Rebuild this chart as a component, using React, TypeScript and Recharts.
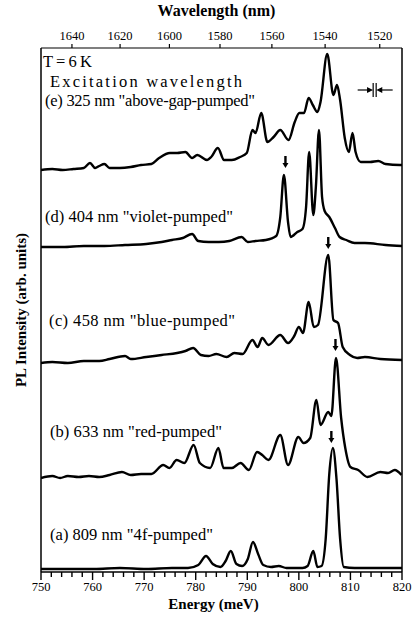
import { LineChart, Line, XAxis, YAxis, Label, ReferenceLine, ReferenceDot } from "recharts";

// PL spectra. Energies in meV, intensities in arb. units
// above each trace's own baseline.
const eEnergy = [750, 752.2, 754.2, 756.3, 758.3, 759.5, 760.5, 761.3, 762.3, 763.3, 765.3, 767.4, 769.4, 771.4, 772.9, 775.0, 776.4, 778.0, 779.3, 780.3, 782.2, 783.0, 784.3, 785.5, 787.0, 788.6, 789.9, 791.0, 791.6, 792.7, 793.9, 795.1, 796.4, 798.0, 799.2, 800.1, 801.0, 801.9, 802.7, 803.6, 804.2, 805.5, 806.7, 807.4, 808.0, 808.9, 809.7, 810.4, 811.0, 812.0, 813.8, 815.4, 816.8, 819.6, 820];
const eIntensity = [0, 1, 0, 1, 2, 7, 2, 4, 6, 2, 2, 3, 5, 6, 12, 17, 17, 18, 12, 15, 10, 13, 22, 10, 10, 13, 17, 40, 37, 57, 28, 33, 40, 30, 48, 57, 57, 72, 65, 58, 68, 116, 75, 85, 70, 32, 18, 37, 18, 8, 8, 9, 6, 5, 5];

const dEnergy = [750, 754.2, 758.3, 762.3, 766.3, 770.4, 773.4, 775.4, 777.5, 779.3, 780.5, 782.5, 784.5, 786.5, 788.9, 790.1, 791.6, 793.6, 795.6, 796.4, 797.1, 797.9, 798.4, 799.7, 800.7, 801.4, 802.0, 802.8, 803.3, 803.9, 804.5, 805.0, 805.9, 807.0, 807.9, 809.2, 810.8, 812.8, 816.8, 820];
const dIntensity = [0, 0, 1, 1, 2, 3, 5, 7, 9, 13, 6, 5, 5, 6, 10, 5, 6, 7, 11, 30, 72, 25, 10, 15, 18, 40, 95, 32, 60, 117, 50, 36, 30, 19, 10, 7, 4, 4, 2, 1];

const cEnergy = [750, 752.2, 755.2, 758.3, 761.3, 763.3, 766.3, 767.4, 770.4, 773.4, 776.4, 778.0, 779.5, 781.0, 782.5, 784.0, 786.0, 787.5, 789.1, 791.0, 792.0, 792.9, 794.1, 796.4, 797.9, 799.1, 800.0, 800.8, 801.9, 802.9, 803.7, 805.7, 806.7, 807.6, 808.5, 809.9, 811.3, 812.8, 815.8, 820];
const cIntensity = [0, 1, 0, 2, 2, 4, 7, 4, 6, 8, 10, 12, 15, 8, 7, 9, 6, 10, 9, 23, 16, 25, 18, 28, 20, 27, 36, 30, 61, 36, 38, 108, 43, 40, 16, 8, 5, 6, 4, 3];

const bEnergy = [750, 752.2, 753.7, 755.2, 757.3, 759.3, 761.3, 763.3, 765.7, 767.4, 769.4, 771.4, 773.7, 774.9, 776.3, 777.8, 779.6, 780.8, 782.8, 784.4, 785.4, 787.0, 788.7, 790.3, 791.9, 792.9, 794.1, 796.4, 797.9, 799.9, 800.9, 802.2, 803.4, 804.2, 805.7, 806.3, 807.2, 808.2, 809.0, 810.0, 811.5, 813.3, 815.8, 817.3, 818.6, 819.9];
const bIntensity = [0, 2, 0, 2, 1, 2, 1, 3, 6, 3, 4, 4, 13, 10, 18, 15, 33, 15, 10, 30, 10, 10, 15, 8, 26, 23, 18, 43, 13, 41, 35, 40, 78, 53, 66, 62, 120, 60, 30, 11, 8, 1, 6, 5, 8, 3];

const aEnergy = [750, 755.2, 760.3, 765.3, 770.4, 775.4, 778.5, 780.5, 782.0, 783.3, 784.8, 785.8, 786.8, 787.9, 789.0, 790.1, 791.1, 792.1, 793.1, 794.6, 796.1, 797.6, 800.7, 801.7, 802.8, 803.6, 804.4, 805.2, 805.9, 806.6, 807.3, 808.0, 808.7, 810.8, 815.8, 820];
const aIntensity = [0, 0, 0, 1, 0, 1, 1, 4, 13, 5, 2, 8, 18, 5, 3, 10, 27, 15, 4, 2, 3, 1, 1, 3, 18, 2, 3, 30, 95, 121, 90, 30, 2, 1, 1, 1];

// vertical offsets of the stacked traces
const offsets = { a: 3, b: 94, c: 209, d: 325, e: 402 };

const labels = [
  { text: "T = 6 K", x: 43, y: 67, w: 49 },
  { text: "Excitation wavelength", x: 50, y: 87, w: 192 },
  { text: '(e) 325 nm "above-gap-pumped"', x: 45, y: 106, w: 210 },
  { text: '(d) 404 nm "violet-pumped"', x: 45, y: 222, w: 188 },
  { text: '(c) 458 nm "blue-pumped"', x: 49, y: 326, w: 186 },
  { text: '(b) 633 nm "red-pumped"', x: 50, y: 437, w: 172 },
  { text: '(a) 809 nm "4f-pumped"', x: 50, y: 540, w: 163 },
];

// down arrows marking the resonant line in each spectrum
const arrowEnergy = [797.4, 805.7, 807.1, 806.3];
const arrowTip = [404, 323, 221, 129];

const wavelengths = [1640, 1620, 1600, 1580, 1560, 1540, 1520];
const HC = 1239841.98; // meV*nm
const topTicks = wavelengths.map((w) => HC / w);
const bottomTicks = Array.from({ length: 36 }, (_, i) => 750 + i * 2);

const FONT = '"Liberation Serif", "Times New Roman", serif';

const toSeries = (en: number[], inten: number[], off: number) =>
  en.map((e, i) => ({ e, v: inten[i] + off }));

const series = [
  toSeries(eEnergy, eIntensity, offsets.e),
  toSeries(dEnergy, dIntensity, offsets.d),
  toSeries(cEnergy, cIntensity, offsets.c),
  toSeries(bEnergy, bIntensity, offsets.b),
  toSeries(aEnergy, aIntensity, offsets.a),
];

const BottomTick = (props: any) => {
  const { x, y, payload } = props;
  const major = payload.value % 10 === 0;
  return (
    <g>
      <line x1={x} x2={x} y1={y} y2={y + (major ? 8 : 5)} stroke="#000" strokeWidth={1.4} />
      {major && (
        <text x={x} y={y + 19} textAnchor="middle" fontSize={12.5} fontFamily={FONT} fill="#000">
          {payload.value}
        </text>
      )}
    </g>
  );
};

const TopTick = (props: any) => {
  const { x, y, payload } = props;
  return (
    <g>
      <line x1={x} x2={x} y1={y} y2={y - 4} stroke="#000" strokeWidth={1.2} />
      <text x={x} y={y - 8} textAnchor="middle" fontSize={12.5} fontFamily={FONT} fill="#000">
        {Math.round(HC / payload.value)}
      </text>
    </g>
  );
};

const DownArrow = (props: any) => {
  const { cx, cy } = props;
  return (
    <g>
      <line x1={cx} x2={cx} y1={cy - 12} y2={cy - 4} stroke="#000" strokeWidth={2.4} />
      <path d={`M${cx - 3},${cy - 5} L${cx + 3},${cy - 5} L${cx},${cy} Z`} fill="#000" />
    </g>
  );
};

const Resolution = (props: any) => {
  const { cx, cy } = props;
  return (
    <g stroke="#000" strokeWidth={1.2}>
      <line x1={cx - 17} x2={cx - 5} y1={cy} y2={cy} />
      <path d={`M${cx - 7},${cy - 2} L${cx - 3},${cy} L${cx - 7},${cy + 2} Z`} fill="#000" />
      <line x1={cx - 1.5} x2={cx - 1.5} y1={cy - 7} y2={cy + 7} />
      <line x1={cx + 1.5} x2={cx + 1.5} y1={cy - 7} y2={cy + 7} />
      <line x1={cx + 5} x2={cx + 18} y1={cy} y2={cy} />
      <path d={`M${cx + 7},${cy - 2} L${cx + 3},${cy} L${cx + 7},${cy + 2} Z`} fill="#000" />
    </g>
  );
};

export default function App() {
  return (
    <div style={{ position: "absolute", left: 0, top: 0, width: 420, height: 617, background: "#fff" }}>
      <LineChart width={420} height={617} margin={{ top: 0, right: 18, bottom: 0, left: 0 }} style={{ fontFamily: FONT }}>
        <XAxis
          xAxisId="bottom"
          type="number"
          dataKey="e"
          domain={[750, 820]}
          allowDataOverflow
          ticks={bottomTicks}
          interval={0}
          height={45}
          tickSize={0}
          tickMargin={0}
          tickLine={false}
          tick={BottomTick}
          axisLine={{ stroke: "#000", strokeWidth: 1.5 }}
        >
          <Label value="Energy (meV)" position="insideBottom" offset={8} dx={-8} fontSize={15} fontWeight="bold" fill="#000" fontFamily={FONT} />
        </XAxis>
        <XAxis
          xAxisId="top"
          orientation="top"
          type="number"
          dataKey="e"
          domain={[750, 820]}
          allowDataOverflow
          ticks={topTicks}
          interval={0}
          height={48}
          tickSize={0}
          tickMargin={0}
          tickLine={false}
          tick={TopTick}
          axisLine={{ stroke: "#000", strokeWidth: 1.2 }}
        >
          <Label value="Wavelength (nm)" position="insideTop" offset={5} dx={-5} fontSize={16} fontWeight="bold" fill="#000" fontFamily={FONT} />
        </XAxis>
        <YAxis
          yAxisId="y"
          type="number"
          domain={[0, 524]}
          allowDataOverflow
          width={41}
          tick={false}
          tickLine={false}
          axisLine={{ stroke: "#000", strokeWidth: 1.5 }}
        >
          <Label
            value="PL Intensity (arb. units)"
            angle={-90}
            position="insideLeft"
            offset={21}
            fontSize={15}
            fontWeight="bold"
            fill="#000"
            fontFamily={FONT}
            style={{ textAnchor: "middle" }}
          />
        </YAxis>
        <ReferenceLine xAxisId="bottom" yAxisId="y" x={820} stroke="#000" strokeWidth={1.5} />
        {/* invisible copy of the top trace so the wavelength axis gets drawn */}
        <Line
          xAxisId="top"
          yAxisId="y"
          data={series[0]}
          dataKey="v"
          stroke="none"
          dot={false}
          activeDot={false}
          isAnimationActive={false}
        />
        {series.map((data, i) => (
          <Line
            key={i}
            xAxisId="bottom"
            yAxisId="y"
            data={data}
            dataKey="v"
            type="monotone"
            stroke="#000"
            strokeWidth={2.4}
            strokeLinejoin="round"
            dot={false}
            isAnimationActive={false}
          />
        ))}
        {arrowEnergy.map((e, i) => (
          <ReferenceDot key={i} xAxisId="bottom" yAxisId="y" x={e} y={arrowTip[i]} r={0} shape={DownArrow} />
        ))}
        <ReferenceDot xAxisId="bottom" yAxisId="y" x={814.7} y={482} r={0} shape={Resolution} />
      </LineChart>
      <svg width={420} height={617} style={{ position: "absolute", left: 0, top: 0, pointerEvents: "none" }}>
        {labels.map((l) => (
          <text key={l.text} x={l.x} y={l.y} fontSize={16.5} fontFamily={FONT} fill="#000" textLength={l.w} lengthAdjust="spacing">
            {l.text}
          </text>
        ))}
      </svg>
    </div>
  );
}
